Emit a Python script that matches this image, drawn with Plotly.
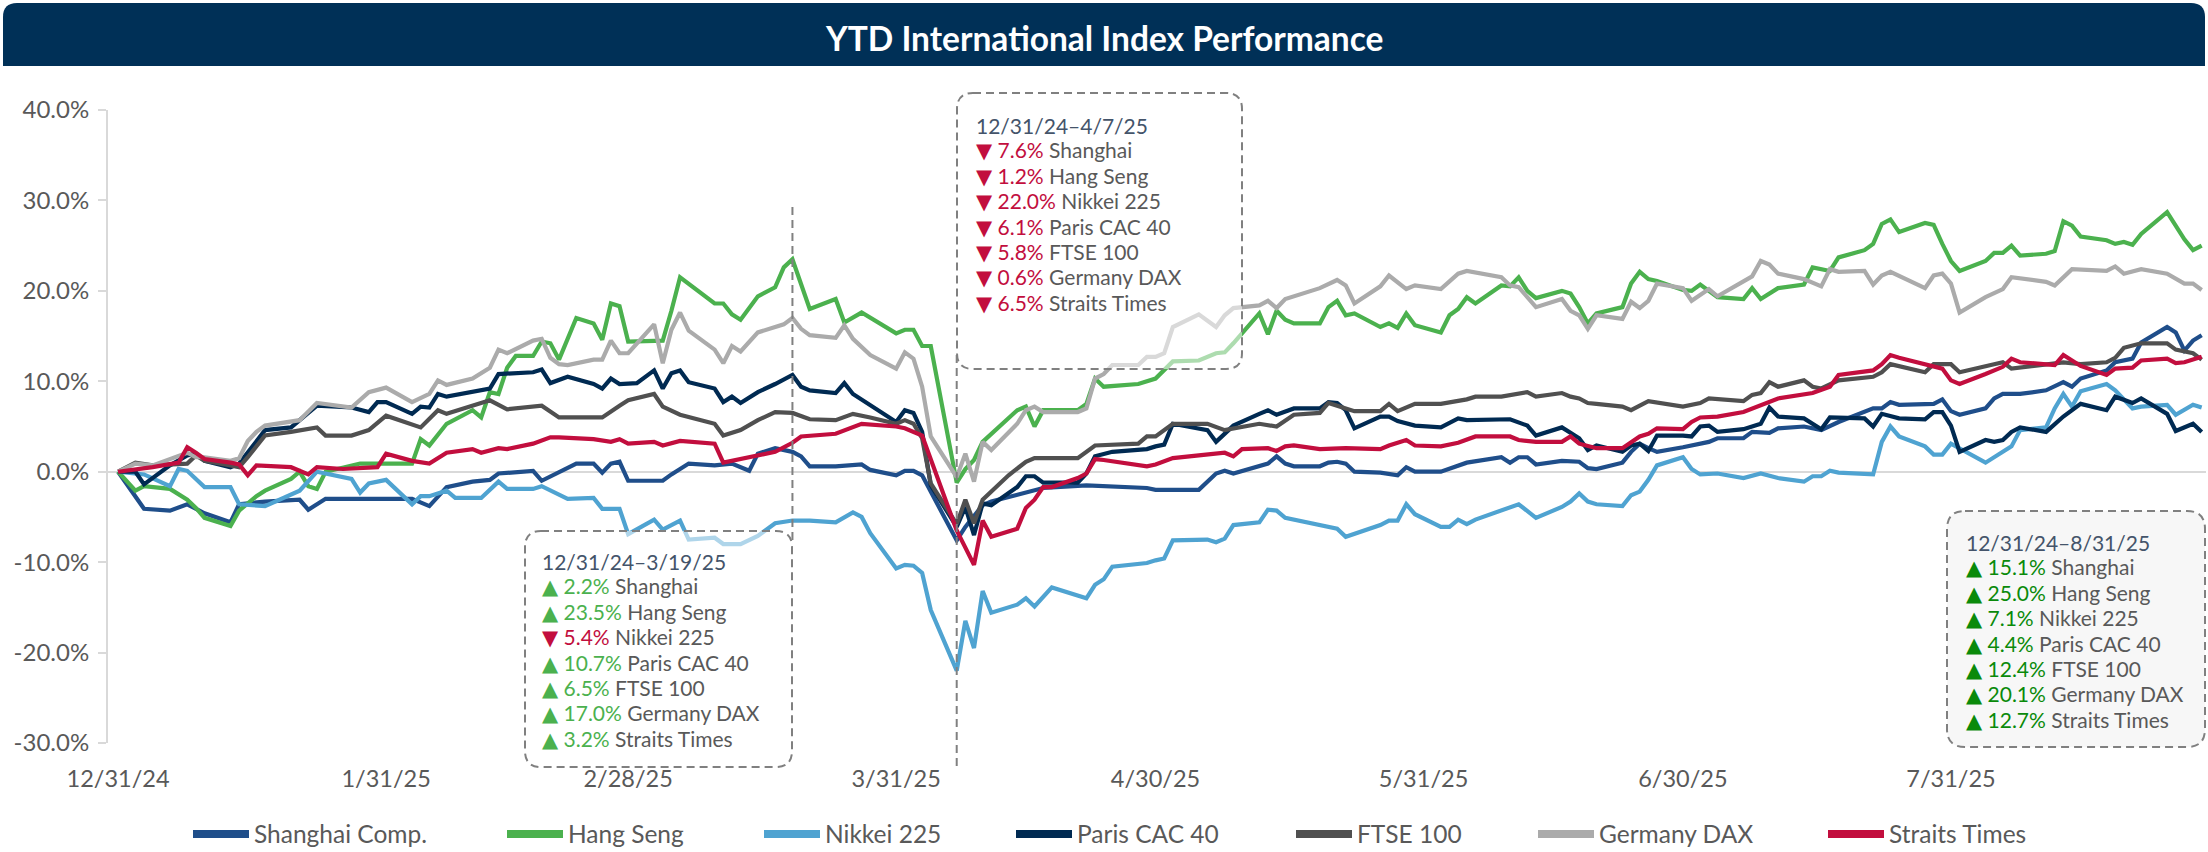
import pandas as pd
import plotly.graph_objects as go

# ---------------- data (day offset from 2024-12-31, YTD return in %) ----------------
BASE_DATE = "2024-12-31"

shanghai = [(0,0),(3,-4.1),(6,-4.3),(8,-3.6),(10,-4.6),(13,-5.6),(14,-3.6),(17,-3.3),(21,-3.1),(22,-4.2),(24,-3.0),(34,-3.0),(36,-3.8),(38,-1.7),(41,-1.1),(43,-0.9),(44,-0.2),(46,-0.1),(48,0.1),(49,-1.0),(51,0.0),(53,0.9),(55,0.9),(56,-0.1),(57,0.9),(58,1.1),(59,-1.0),(63,-1.0),(64,-0.3),(66,0.9),(69,0.7),(71,0.9),(73,0.1),(74,2.0),(76,2.6),(78,2.2),(79,1.7),(80,0.6),(83,0.6),(86,0.8),(87,0.2),(90,-0.4),(91,0.1),(92,0.1),(93,-0.4),(97,-7.6),(98,-6.1),(99,-4.9),(100,-3.7),(101,-3.3),(104,-2.6),(107,-1.8),(112,-1.5),(119,-1.8),(120,-2.0),(125,-2.0),(127,-0.2),(128,0.1),(129,-0.2),(133,0.9),(134,1.7),(135,0.9),(136,0.6),(139,0.6),(140,1.0),(141,1.1),(142,0.9),(143,0.0),(146,-0.1),(148,-0.4),(149,0.5),(150,0.0),(153,0.0),(155,0.7),(156,1.0),(160,1.6),(161,1.0),(162,1.6),(163,1.6),(164,0.8),(167,1.2),(169,1.1),(170,0.4),(171,0.3),(174,1.0),(175,2.2),(176,3.1),(177,2.6),(178,2.2),(181,2.7),(183,3.1),(184,3.3),(185,3.7),(188,3.7),(189,4.4),(191,4.3),(192,4.8),(195,5.0),(197,4.6),(199,5.5),(203,7.0),(204,7.0),(205,7.7),(206,7.4),(210,7.5),(211,8.0),(212,6.7),(213,6.3),(216,7.0),(217,8.1),(218,8.6),(220,8.6),(223,9.0),(225,9.9),(226,9.4),(227,10.3),(230,11.2),(231,12.1),(233,12.5),(234,14.3),(237,16.0),(238,15.4),(239,13.4),(240,14.5),(241,15.1)]

hang_seng = [(0,0),(2,-2.1),(3,-1.6),(6,-1.9),(8,-3.1),(9,-4.0),(10,-5.1),(13,-6.0),(14,-4.3),(16,-2.7),(17,-2.1),(20,-0.8),(21,0.0),(22,-1.6),(23,-1.9),(24,0.0),(28,0.9),(34,0.9),(35,3.6),(36,2.9),(38,5.3),(41,6.8),(42,6.0),(43,8.8),(44,8.6),(45,11.5),(46,12.8),(48,12.8),(49,14.4),(50,14.2),(51,12.4),(53,17.0),(55,16.4),(56,14.6),(57,18.6),(58,18.3),(59,14.4),(63,14.5),(64,17.8),(65,21.5),(69,18.6),(70,18.6),(71,17.4),(72,16.8),(74,19.4),(76,20.4),(77,22.6),(78,23.5),(80,18.0),(83,19.1),(84,16.5),(86,17.6),(90,15.3),(91,15.7),(92,15.7),(93,13.9),(94,13.9),(97,-1.2),(98,0.3),(99,1.3),(100,3.3),(101,4.2),(104,6.8),(105,7.2),(106,5.0),(107,6.8),(111,6.8),(112,7.5),(113,10.3),(114,9.4),(118,9.7),(120,10.3),(122,12.2),(125,12.3),(127,13.1),(128,13.2),(129,14.2),(132,17.5),(133,15.2),(134,17.8),(135,16.8),(136,16.4),(139,16.4),(140,18.2),(141,18.9),(142,17.3),(143,17.5),(146,16.0),(147,16.4),(148,15.9),(149,17.5),(150,16.2),(153,15.4),(154,17.3),(155,18.0),(156,19.3),(157,18.6),(160,20.6),(161,20.5),(162,21.5),(163,20.0),(164,19.2),(167,20.0),(168,19.7),(169,18.2),(170,16.4),(171,17.5),(174,18.2),(175,20.8),(176,22.1),(177,21.3),(178,21.1),(181,20.1),(182,20.0),(183,20.7),(185,19.3),(188,19.1),(189,20.3),(190,19.1),(192,20.3),(195,20.7),(196,22.6),(198,22.2),(199,23.7),(202,24.5),(203,25.2),(204,27.4),(205,27.9),(206,26.5),(209,27.5),(210,27.3),(211,25.2),(212,23.3),(213,22.2),(216,23.3),(217,24.2),(218,24.2),(219,25.0),(220,23.9),(223,24.1),(224,24.4),(225,27.7),(226,27.2),(227,26.0),(230,25.6),(231,25.2),(232,25.4),(233,25.1),(234,26.3),(237,28.7),(239,25.7),(240,24.5),(241,25.0)]

nikkei = [(0,0),(3,-0.3),(6,-1.6),(7,0.3),(8,0.1),(10,-1.7),(13,-1.7),(14,-3.6),(17,-3.8),(21,-2.1),(23,0.0),(27,-0.8),(28,-2.3),(29,-1.3),(31,-0.9),(34,-3.6),(35,-2.7),(36,-2.7),(38,-2.1),(39,-2.9),(42,-2.9),(44,-1.1),(45,-1.9),(48,-1.9),(49,-1.6),(52,-3.0),(55,-2.9),(56,-4.1),(58,-4.1),(59,-6.9),(62,-5.3),(63,-6.4),(65,-5.4),(66,-7.5),(69,-7.3),(70,-8.0),(72,-8.0),(74,-7.1),(76,-5.7),(78,-5.4),(80,-5.4),(83,-5.6),(85,-4.5),(86,-5.0),(87,-6.8),(90,-10.7),(91,-10.3),(92,-10.4),(93,-11.2),(94,-15.3),(97,-22.0),(98,-16.5),(99,-19.5),(100,-13.2),(101,-15.6),(104,-14.7),(105,-14.0),(106,-14.9),(108,-12.8),(112,-14.0),(113,-12.5),(114,-11.9),(115,-10.5),(119,-10.1),(120,-9.8),(121,-9.6),(122,-7.6),(126,-7.5),(127,-7.8),(128,-7.4),(129,-5.9),(132,-5.6),(133,-4.2),(134,-4.3),(135,-5.1),(136,-5.3),(139,-5.9),(141,-6.3),(142,-7.2),(143,-6.9),(146,-5.9),(147,-5.4),(148,-5.4),(149,-3.6),(150,-4.7),(153,-6.1),(154,-6.1),(155,-5.3),(156,-5.8),(157,-5.3),(160,-4.3),(162,-3.6),(164,-5.1),(167,-3.9),(168,-3.3),(169,-2.4),(170,-3.3),(171,-3.6),(174,-3.8),(175,-2.6),(176,-2.2),(177,-0.9),(178,0.7),(181,1.6),(182,0.3),(183,-0.3),(185,-0.2),(188,-0.7),(190,-0.2),(192,-0.7),(195,-1.1),(196,-0.5),(197,-0.5),(198,0.1),(199,-0.1),(203,-0.3),(204,3.3),(205,5.0),(206,3.9),(209,2.8),(210,1.9),(211,1.9),(212,3.1),(216,1.0),(219,2.8),(220,4.6),(223,4.9),(224,7.0),(225,8.6),(226,7.2),(227,8.9),(230,9.7),(231,9.0),(233,7.0),(234,7.2),(237,7.4),(238,6.3),(240,7.4),(241,7.1)]

paris_cac = [(0,0),(2,0.0),(3,-1.4),(6,0.7),(8,1.8),(9,2.0),(10,1.2),(13,0.5),(14,0.9),(16,3.3),(17,4.6),(20,4.9),(23,7.3),(27,7.1),(29,6.6),(30,7.7),(31,7.7),(34,6.4),(35,7.2),(36,7.1),(37,8.6),(38,8.3),(41,8.8),(43,9.2),(44,10.8),(48,11.0),(49,11.3),(50,9.8),(52,10.5),(55,9.7),(56,9.2),(57,10.3),(58,9.7),(60,9.8),(62,11.2),(63,9.2),(64,10.9),(65,11.2),(66,9.9),(69,9.2),(70,7.7),(71,8.3),(72,7.6),(74,8.8),(76,9.7),(78,10.7),(79,9.4),(80,9.0),(83,8.7),(84,9.8),(85,8.6),(87,7.4),(90,5.5),(91,6.8),(92,6.5),(93,4.4),(94,-1.5),(97,-6.1),(98,-3.9),(99,-7.0),(100,-3.5),(101,-3.7),(104,-1.7),(105,-0.5),(106,-0.5),(107,-1.2),(111,-1.2),(112,-0.2),(113,1.7),(115,2.2),(119,2.5),(120,2.8),(121,3.0),(122,5.3),(125,4.8),(126,4.6),(127,3.3),(129,5.1),(132,6.4),(133,6.8),(134,6.3),(136,7.0),(139,7.0),(140,7.7),(141,7.6),(142,6.8),(143,4.8),(146,6.1),(147,6.1),(148,5.6),(150,5.1),(153,4.9),(155,5.9),(156,5.7),(161,5.8),(163,5.1),(164,4.0),(167,4.9),(169,3.7),(170,2.4),(171,2.9),(174,2.2),(175,2.9),(176,3.1),(177,2.3),(178,4.0),(181,4.0),(182,3.9),(183,5.0),(184,5.1),(185,4.4),(188,4.7),(190,5.3),(191,7.1),(192,6.1),(195,5.9),(197,4.7),(198,6.0),(202,5.9),(203,5.0),(204,6.4),(206,5.9),(209,5.8),(210,6.6),(211,6.6),(212,5.1),(213,2.2),(216,3.5),(217,3.3),(218,3.5),(219,4.4),(220,4.9),(223,4.4),(225,6.1),(227,7.5),(230,6.8),(231,8.3),(233,7.6),(234,8.1),(237,6.4),(238,4.5),(240,5.3),(241,4.4)]

ftse_100 = [(0,0),(2,1.0),(4,0.7),(8,0.9),(9,1.8),(10,1.2),(13,0.7),(14,0.5),(15,1.6),(17,4.0),(20,4.4),(23,4.9),(24,4.0),(27,4.0),(29,4.6),(31,6.2),(35,4.9),(37,6.8),(38,6.4),(41,7.3),(43,7.9),(45,6.9),(49,7.3),(51,6.0),(56,6.0),(58,7.3),(59,7.9),(62,8.6),(63,7.2),(65,6.3),(69,5.3),(70,4.0),(72,4.6),(74,5.7),(76,6.6),(78,6.5),(80,5.8),(83,5.7),(85,6.4),(87,6.0),(90,5.3),(91,5.7),(92,5.3),(93,3.7),(94,-1.3),(97,-5.8),(98,-3.1),(99,-5.7),(100,-3.1),(103,-0.4),(105,1.1),(106,1.5),(111,1.5),(113,2.9),(118,3.1),(119,3.9),(120,3.9),(122,5.3),(126,5.3),(128,4.6),(129,4.8),(132,5.3),(134,5.0),(136,6.3),(139,6.5),(140,7.6),(142,7.0),(143,6.7),(146,6.7),(147,7.5),(148,6.7),(150,7.5),(153,7.5),(156,8.0),(157,8.3),(160,8.3),(163,8.8),(164,8.3),(167,8.7),(168,8.3),(169,8.1),(170,7.6),(171,7.5),(174,7.2),(175,6.8),(177,7.8),(181,7.2),(183,7.6),(184,8.1),(188,7.8),(189,8.5),(190,8.7),(191,9.9),(192,9.4),(195,10.1),(196,9.4),(197,9.2),(199,10.1),(203,10.5),(204,11.0),(205,11.9),(209,11.0),(210,11.9),(212,11.9),(213,11.0),(218,12.1),(219,11.4),(223,11.8),(225,12.1),(227,11.9),(230,12.1),(231,12.6),(232,13.7),(234,14.2),(237,14.2),(238,13.5),(240,13.1),(241,12.4)]

germany_dax = [(0,0),(2,0.9),(4,0.7),(6,1.4),(8,2.1),(9,1.6),(10,1.6),(13,1.2),(14,1.5),(15,3.4),(16,4.4),(17,5.1),(21,5.7),(23,7.6),(27,7.1),(29,8.8),(31,9.3),(34,7.7),(36,8.6),(37,10.1),(38,9.6),(41,10.3),(43,11.5),(44,13.5),(45,13.1),(48,14.5),(49,14.7),(50,12.6),(51,11.9),(52,11.8),(55,12.4),(56,12.4),(57,14.5),(58,13.1),(59,13.1),(62,16.3),(63,12.0),(64,15.7),(65,17.6),(66,15.6),(69,13.5),(70,12.0),(71,13.9),(72,13.3),(74,15.4),(77,16.3),(78,17.0),(79,15.8),(80,15.1),(83,14.8),(84,16.2),(85,14.7),(87,12.9),(90,11.4),(91,13.2),(92,12.5),(93,9.4),(94,3.9),(97,-0.6),(98,2.0),(99,-1.1),(100,3.3),(101,2.4),(104,5.3),(105,6.8),(106,7.2),(107,6.6),(111,6.6),(112,7.0),(113,10.3),(114,10.8),(115,11.8),(118,11.8),(119,12.7),(120,12.7),(121,13.1),(122,16.0),(125,17.4),(127,16.0),(128,17.3),(129,18.1),(132,18.4),(133,18.9),(134,18.1),(135,19.1),(139,20.3),(141,21.2),(142,20.6),(143,18.6),(146,20.5),(147,21.7),(149,20.2),(150,20.6),(153,20.2),(155,21.9),(156,22.2),(160,21.5),(161,20.6),(162,20.4),(164,18.2),(167,19.1),(168,17.8),(169,17.3),(170,15.8),(171,17.3),(174,16.9),(175,18.8),(176,18.1),(177,18.9),(178,20.8),(181,20.3),(182,18.9),(184,20.2),(185,19.4),(188,21.0),(189,21.6),(190,23.3),(191,22.9),(192,21.9),(195,21.3),(197,20.5),(198,22.4),(199,22.1),(202,22.2),(203,20.7),(204,21.7),(205,22.1),(209,20.3),(210,21.7),(211,21.9),(212,20.8),(213,17.6),(216,19.3),(218,20.2),(219,21.5),(223,21.0),(224,20.6),(226,22.4),(230,22.2),(231,22.7),(232,21.9),(234,22.4),(237,21.9),(239,20.8),(240,20.8),(241,20.1)]

straits_times = [(0,0),(4,0.5),(7,1.0),(8,2.7),(9,2.1),(10,1.4),(13,1.0),(14,0.8),(15,-0.4),(16,0.7),(20,0.5),(22,-0.3),(23,0.5),(26,0.3),(30,0.5),(31,2.0),(34,1.2),(36,0.9),(38,2.1),(41,2.5),(42,2.1),(44,2.6),(45,2.5),(48,3.1),(50,3.8),(51,3.8),(55,3.6),(57,3.3),(58,3.6),(59,3.1),(62,3.3),(63,2.9),(65,3.4),(69,3.1),(70,1.0),(72,1.4),(76,2.2),(78,3.2),(79,3.9),(83,4.2),(86,5.3),(90,5.0),(91,4.8),(93,4.0),(97,-6.5),(98,-8.4),(99,-10.3),(100,-5.4),(101,-7.2),(104,-6.3),(105,-4.0),(106,-3.1),(107,-1.7),(108,-1.7),(111,-0.7),(112,-0.2),(113,1.4),(114,1.3),(119,0.6),(120,0.8),(121,1.2),(122,1.5),(125,1.8),(128,2.1),(129,1.7),(130,2.5),(133,2.6),(134,2.3),(135,2.8),(136,2.9),(139,2.5),(142,2.6),(146,2.5),(147,2.9),(149,3.5),(150,2.9),(153,2.8),(155,3.2),(157,3.9),(161,3.9),(162,3.5),(164,3.3),(167,3.3),(168,3.9),(169,3.1),(170,2.8),(171,2.6),(174,2.6),(175,3.3),(176,3.9),(177,4.2),(178,4.8),(181,4.7),(182,5.5),(183,6.0),(185,6.1),(188,6.6),(190,7.4),(192,8.1),(196,8.7),(198,9.4),(199,10.7),(202,11.1),(203,11.2),(204,11.9),(205,12.9),(206,12.6),(209,11.9),(211,11.4),(212,10.1),(213,9.7),(216,10.8),(218,11.6),(219,12.5),(220,12.1),(224,11.8),(225,12.9),(227,11.7),(230,10.7),(231,11.4),(233,11.5),(234,12.3),(237,12.5),(238,12.0),(239,12.1),(241,12.7)]

series_names = ["Shanghai Comp.", "Hang Seng", "Nikkei 225", "Paris CAC 40", "FTSE 100", "Germany DAX", "Straits Times"]
series_data = [shanghai, hang_seng, nikkei, paris_cac, ftse_100, germany_dax, straits_times]
series_colors = ["#1F4E8A", "#4BB14E", "#4FA3D1", "#002A52", "#505050", "#ABABAB", "#C20E3E"]

tick_dates = ["2024-12-31", "2025-01-31", "2025-02-28", "2025-03-31", "2025-04-30", "2025-05-31", "2025-06-30", "2025-07-31"]
tick_labels = ["12/31/24", "1/31/25", "2/28/25", "3/31/25", "4/30/25", "5/31/25", "6/30/25", "7/31/25"]
y_ticks = [-30, -20, -10, 0, 10, 20, 30, 40]
y_labels = [f"{v:.1f}%" for v in y_ticks]

# annotation boxes: (period label, [(arrow, pct, name)])
box1_period = "12/31/24–3/19/25"
box1_rows = [("▲", "2.2", "Shanghai"), ("▲", "23.5", "Hang Seng"), ("▼", "5.4", "Nikkei 225"),
             ("▲", "10.7", "Paris CAC 40"), ("▲", "6.5", "FTSE 100"), ("▲", "17.0", "Germany DAX"),
             ("▲", "3.2", "Straits Times")]
box2_period = "12/31/24–4/7/25"
box2_rows = [("▼", "7.6", "Shanghai"), ("▼", "1.2", "Hang Seng"), ("▼", "22.0", "Nikkei 225"),
             ("▼", "6.1", "Paris CAC 40"), ("▼", "5.8", "FTSE 100"), ("▼", "0.6", "Germany DAX"),
             ("▼", "6.5", "Straits Times")]
box3_period = "12/31/24–8/31/25"
box3_rows = [("▲", "15.1", "Shanghai"), ("▲", "25.0", "Hang Seng"), ("▲", "7.1", "Nikkei 225"),
             ("▲", "4.4", "Paris CAC 40"), ("▲", "12.4", "FTSE 100"), ("▲", "20.1", "Germany DAX"),
             ("▲", "12.7", "Straits Times")]

# ---------------- layout geometry ----------------
W, H = 2208, 852
L, R, T, B = 108, 2206, 110, 743
FONT = "Lato, 'Open Sans', sans-serif"
GREY_TXT = "#595959"
PERIOD_CLR = "#44546A"
UP_LIGHT = "#4BB14E"
UP_DARK = "#0A8A0A"
DOWN = "#C20E3E"
BOX_FONT_SIZE = 21
LINE_STEP = 25.4
LEGEND_X = [194, 508, 765, 1017, 1297, 1539, 1829]   # left edge of each legend swatch (px)


def px(xp):
    return (xp - L) / (R - L)


def py(yp):
    return (B - yp) / (B - T)


def rounded_path(x0, y0, x1, y1, r, top_only=False):
    def P(a, b):
        return f"{px(a):.6f},{py(b):.6f}"
    if top_only:
        return (f"M{P(x0, y1)} L{P(x0, y0 + r)} Q{P(x0, y0)} {P(x0 + r, y0)} "
                f"L{P(x1 - r, y0)} Q{P(x1, y0)} {P(x1, y0 + r)} L{P(x1, y1)} Z")
    return (f"M{P(x0 + r, y0)} L{P(x1 - r, y0)} Q{P(x1, y0)} {P(x1, y0 + r)} "
            f"L{P(x1, y1 - r)} Q{P(x1, y1)} {P(x1 - r, y1)} L{P(x0 + r, y1)} "
            f"Q{P(x0, y1)} {P(x0, y1 - r)} L{P(x0, y0 + r)} Q{P(x0, y0)} {P(x0 + r, y0)} Z")


def box_lines(period, rows, up_color, x_left, y_first):
    texts = [f"<span style='color:{PERIOD_CLR}'>{period}</span>"]
    for arrow, pct, name in rows:
        c = up_color if arrow == "▲" else DOWN
        texts.append(f"<span style=\"color:{c};font-family:'DejaVu Sans'\">{arrow}</span>"
                     f"<span style='color:{c}'> {pct}%</span> "
                     f"<span style='color:{GREY_TXT}'>{name}</span>")
    out = []
    for i, t in enumerate(texts):
        out.append(dict(text=t, xref="paper", yref="paper", x=px(x_left),
                        y=py(y_first + i * LINE_STEP), xanchor="left", yanchor="middle",
                        align="left", showarrow=False,
                        font=dict(family=FONT, size=BOX_FONT_SIZE, color=GREY_TXT)))
    return out


fig = go.Figure()
base = pd.Timestamp(BASE_DATE)
for name, data, color in zip(series_names, series_data, series_colors):
    days = [d for d, _ in data]
    vals = [v for _, v in data]
    dates = base + pd.to_timedelta(days, unit="D")
    fig.add_trace(go.Scatter(x=dates, y=vals, mode="lines", name=name, showlegend=False,
                             line=dict(color=color, width=4.2), hoverinfo="skip"))

# one legend per series so each entry sits where the reference puts it
legend_layouts = {}
for i, (name, color) in enumerate(zip(series_names, series_colors)):
    key = "legend" if i == 0 else f"legend{i + 1}"
    fig.add_trace(go.Scatter(x=[None], y=[None], mode="lines", name=name, showlegend=True,
                             legend=key, line=dict(color=color, width=8)))
    legend_layouts[key] = dict(orientation="h", x=px(LEGEND_X[i] - 6), xanchor="left",
                               y=py(834), yanchor="middle", itemwidth=56,
                               font=dict(family=FONT, size=24.5, color=GREY_TXT),
                               bgcolor="rgba(0,0,0,0)", borderwidth=0)

dash_line = dict(color="#808080", width=2, dash="8px,5px")
shapes = [
    # title bar
    dict(type="path", xref="paper", yref="paper", layer="above",
         path=rounded_path(3, 3, 2205, 66, 14, top_only=True),
         fillcolor="#003057", line=dict(width=0)),
    # vertical marker lines
    dict(type="line", xref="x", yref="paper", x0="2025-03-19", x1="2025-03-19",
         y0=py(207), y1=py(545), line=dash_line, layer="above"),
    dict(type="line", xref="x", yref="paper", x0="2025-04-07", x1="2025-04-07",
         y0=py(355), y1=py(767), line=dash_line, layer="above"),
    # annotation boxes
    dict(type="path", xref="paper", yref="paper", layer="above",
         path=rounded_path(525, 531, 792, 767, 16),
         fillcolor="rgba(255,255,255,0.55)", line=dash_line),
    dict(type="path", xref="paper", yref="paper", layer="above",
         path=rounded_path(957, 93, 1242, 369, 16),
         fillcolor="rgba(255,255,255,0.55)", line=dash_line),
    dict(type="path", xref="paper", yref="paper", layer="above",
         path=rounded_path(1947, 511, 2205, 747, 18),
         fillcolor="#F7F7F7", line=dash_line),
]

annotations = [
    dict(text="<b>YTD International Index Performance</b>", xref="paper", yref="paper",
         x=px(1104), y=py(38), xanchor="center", yanchor="middle", showarrow=False,
         font=dict(family=FONT, size=33.5, color="white")),
]
annotations += box_lines(box1_period, box1_rows, UP_LIGHT, 540, 561)
annotations += box_lines(box2_period, box2_rows, UP_LIGHT, 974, 125)
annotations += box_lines(box3_period, box3_rows, UP_DARK, 1964, 542)

fig.update_layout(
    width=W, height=H,
    margin=dict(l=L, r=W - R, t=T, b=H - B, pad=0, autoexpand=False),
    paper_bgcolor="white", plot_bgcolor="white",
    font=dict(family=FONT, color=GREY_TXT),
    shapes=shapes, annotations=annotations,
    showlegend=True,
    xaxis=dict(type="date", range=["2024-12-29 20:00", "2025-08-29 12:00"],
               tickvals=tick_dates, ticktext=tick_labels, showgrid=False, showline=False,
               zeroline=False, ticks="", ticklabelstandoff=19,
               tickfont=dict(family=FONT, size=23.5, color=GREY_TXT)),
    yaxis=dict(range=[-30, 40], tickvals=y_ticks, ticktext=y_labels, showgrid=False,
               showline=True, linecolor="#D9D9D9", linewidth=2, ticks="outside",
               tickcolor="#D9D9D9", ticklen=8, tickwidth=2, zeroline=True,
               zerolinecolor="#D9D9D9", zerolinewidth=2, ticklabelstandoff=4,
               tickfont=dict(family=FONT, size=24, color=GREY_TXT)),
)
fig.update_layout(**legend_layouts)

fig.write_html("out.html", config={"displayModeBar": False},
               post_script="document.body.style.margin='0';document.body.style.overflow='hidden';")
